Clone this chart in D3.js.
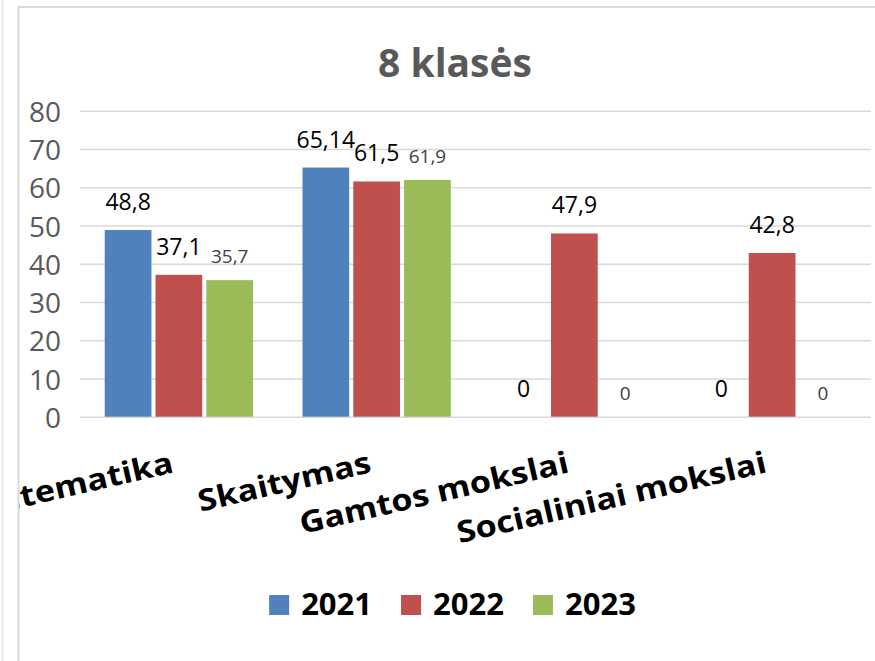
<!DOCTYPE html>
<html>
<head>
<meta charset="utf-8">
<script src="https://cdn.jsdelivr.net/npm/d3@7"></script>
<style>
  body { margin: 0; background: #fff; }
  svg { display: block; font-family: "Open Sans", sans-serif; }
</style>
</head>
<body>
<svg id="chart" width="875" height="661"></svg>
<script>
// chart values
let categories = ["Matematika", "Skaitymas", "Gamtos mokslai", "Socialiniai mokslai"]
let years = ["2021", "2022", "2023"]
let values2021 = [48.8, 65.14, 0, 0]
let values2022 = [37.1, 61.5, 47.9, 42.8]
let values2023 = [35.7, 61.9, 0, 0]
let yTicks = [0, 10, 20, 30, 40, 50, 60, 70, 80]
let title = "8 klasės"

let colors = ["#4f81bd", "#c0504d", "#9bbb59"]
let labelSize = [23, 23, 19]
let labelGap = [20, 20, 17]
let labelColor = ["#000", "#000", "#404040"]

let series = [values2021, values2022, values2023]
let rows = []
categories.forEach(function(c, i) {
    years.forEach(function(yr, j) {
        rows.push({cat: c, year: yr, s: j, value: series[j][i]})
    })
})

let svg = d3.select("#chart")

// frame lines
svg.append("line").attr("x1", 2.5).attr("x2", 2.5).attr("y1", 0).attr("y2", 661)
    .attr("stroke", "#e3e3e3").attr("stroke-width", 1.5)
svg.append("path").attr("d", "M18.5,661 V7 H875")
    .attr("fill", "none").attr("stroke", "#d9d9d9").attr("stroke-width", 2)

let x = d3.scaleBand().domain(categories).range([80, 871]).paddingInner(0.25).paddingOuter(0.125)
let xs = d3.scaleBand().domain(years).range([0, x.bandwidth()]).paddingInner(0.08)
let y = d3.scaleLinear().domain([0, 80]).range([416.7, 110.7])

// y axis + gridlines
let yAxis = d3.axisLeft(y).tickValues(yTicks).tickSize(-(871 - 80)).tickPadding(19)
let gy = svg.append("g").attr("transform", "translate(80,0)").call(yAxis)
gy.select(".domain").remove()
gy.selectAll(".tick line").attr("stroke", "#d9d9d9").attr("stroke-width", 1.5)
gy.selectAll(".tick text")
    .attr("font-size", 28).attr("fill", "#595959").attr("dy", "0.38em")
    .style("font-family", "'Open Sans', sans-serif")

// bars
svg.append("g").selectAll("rect")
    .data(rows.filter(d => d.value > 0))
    .join("rect")
    .attr("x", d => x(d.cat) + xs(d.year))
    .attr("y", d => y(d.value))
    .attr("width", xs.bandwidth())
    .attr("height", d => y(0) - y(d.value))
    .attr("fill", d => colors[d.s])

// data labels
svg.append("g").selectAll("text")
    .data(rows)
    .join("text")
    .attr("x", d => x(d.cat) + xs(d.year) + xs.bandwidth() / 2)
    .attr("y", d => y(d.value) - labelGap[d.s])
    .attr("text-anchor", "middle")
    .attr("font-size", d => labelSize[d.s])
    .attr("fill", d => labelColor[d.s])
    .text(d => String(d.value).replace(".", ","))

// title
svg.append("text")
    .attr("x", 455).attr("y", 77)
    .attr("text-anchor", "middle")
    .attr("font-size", 39).attr("font-weight", "bold").attr("fill", "#595959")
    .text(title)

// category labels, clipped by the chart frame (a bit stretched like the original)
svg.append("clipPath").attr("id", "plotclip")
    .append("rect").attr("x", 19.5).attr("y", 8).attr("width", 860).attr("height", 660)
svg.append("g").attr("clip-path", "url(#plotclip)")
    .selectAll("text")
    .data(categories)
    .join("text")
    .attr("transform", d => "translate(" + (x(d) + x.bandwidth() / 2 - 4) + ",472) rotate(-13) scale(1.14,1)")
    .attr("text-anchor", "end")
    .attr("font-size", 30).attr("font-weight", "bold").attr("fill", "#000")
    .text(d => d)

// legend
let legend = svg.append("g")
let items = legend.selectAll("g").data(years).join("g")
items.append("rect").attr("width", 20).attr("height", 20).attr("y", -20)
    .attr("fill", (d, i) => colors[i])
items.append("text").attr("x", 32).attr("y", 0)
    .attr("font-size", 31).attr("font-weight", "bold").attr("fill", "#000")
    .text(d => d)
let offset = 0
items.each(function() {
    let w = 32 + this.querySelector("text").getComputedTextLength()
    d3.select(this).attr("transform", "translate(" + offset + ",0)")
    offset += w + 29
})
let total = offset - 29
legend.attr("transform", "translate(" + (452.5 - total / 2) + ",615)")
</script>
</body>
</html>
